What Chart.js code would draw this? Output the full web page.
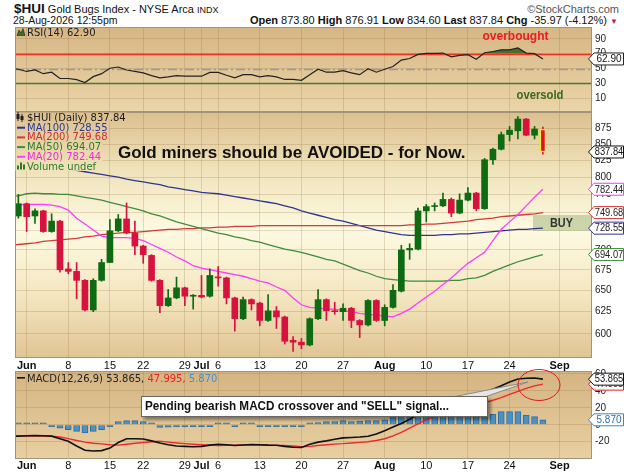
<!DOCTYPE html>
<html><head><meta charset="utf-8">
<script src="https://cdn.jsdelivr.net/npm/chart.js@4.4.1/dist/chart.umd.min.js"></script>
<style>
html,body{margin:0;padding:0;background:#fff}
body{width:624px;height:472px;position:relative;overflow:hidden;font-family:"Liberation Sans",Arial,sans-serif;color:#111}
canvas{position:absolute;left:0}
.h{position:absolute;white-space:nowrap}
</style></head><body>
<div class="h" style="left:14px;top:1px;font-size:11px;line-height:15px"><b style="font-size:13.5px">$HUI</b> Gold Bugs Index - NYSE Arca <span style="font-size:9px">INDX</span></div>
<div class="h" style="right:5px;top:2px;font-size:11px;line-height:14px;color:#555">©StockCharts.com</div>
<div class="h" style="left:13px;top:14px;font-size:10.5px;line-height:13px">28-Aug-2026 12:55pm</div>
<div class="h" id="stats" style="right:6px;top:14px;font-size:11px;line-height:13px"></div>
<canvas id="cRsi" width="624" height="85" style="top:27px"></canvas>
<canvas id="cMain" width="624" height="260" style="top:112px"></canvas>
<canvas id="cMacd" width="624" height="107" style="top:365px"></canvas>
<script>
// ---------------- DATA ----------------
const days = ['May 28','May 29','Jun 1','Jun 2','Jun 3','Jun 4','Jun 5','Jun 8','Jun 9','Jun 10','Jun 11','Jun 12',
 'Jun 15','Jun 16','Jun 17','Jun 18','Jun 22','Jun 23','Jun 24','Jun 25','Jun 26','Jun 29','Jun 30','Jul 1','Jul 2',
 'Jul 6','Jul 7','Jul 8','Jul 9','Jul 10','Jul 13','Jul 14','Jul 15','Jul 16','Jul 17','Jul 20','Jul 21','Jul 22','Jul 23','Jul 24',
 'Jul 27','Jul 28','Jul 29','Jul 30','Jul 31','Aug 3','Aug 4','Aug 5','Aug 6','Aug 7','Aug 10','Aug 11','Aug 12','Aug 13','Aug 14',
 'Aug 17','Aug 18','Aug 19','Aug 20','Aug 21','Aug 24','Aug 25','Aug 26','Aug 27','Aug 28'];
const futureDays = ['Aug 31','Sep 1','Sep 2','Sep 3','Sep 4'];

const openP = [null, 745,762,745,752,724,738,676,673,662,627, 662,684,725,741,722,705,693,662,632,641,
 653,643,644,643,666,665,641,617,639,635, 615,626,619,593,591,588,617,639,626,625,
 629,615,610,638,615,630,649,700,701,752, 758,759,768,749,767,777,755,826,842,865, 871,890,864,873.80];
const highP = [null, 775,763,755,753,748,739,684,684,663,664, 688,740,747,763,738,706,694,663,651,666,
 654,645,668,676,679,666,642,642,640,636, 645,631,620,597,595,618,651,640,636,634,
 630,616,639,639,633,657,706,708,756,761, 763,777,770,776,785,778,828,844,869,878, 894,891,878,876.91];
const lowP = [null, 742,724,735,723,723,672,670,640,626,625, 661,684,724,721,694,683,661,624,631,640,
 632,628,641,642,655,634,603,616,627,609, 614,606,589,581,584,587,616,615,622,615,
 607,596,609,614,609,629,648,688,700,737, 752,758,744,748,766,752,754,819,841,855, 858,863,858,834.60];
const closeP = [null, 762,744,752,724,738,675,673,662,627,662, 684,725,741,722,705,694,662,632,641,653,
 643,644,642,668,665,641,617,639,634,615, 626,619,592,591,588,617,639,626,625,629,
 615,610,638,615,630,650,700,702,752,758, 759,768,749,767,777,755,826,842,865,872, 890,864,873.81,837.84];

const ma20 = [760, 760,761,761,761,760,758,753,742,734,726, 718,716,716,716,715,712,707,702,697,691,
 686,680,677,675,673,671,669,667,664,661, 659,654,650,641,633,630,629,628,628,626,
 625,623,622,621,620,619,623,628,635,642, 649,657,665,674,683,690,697,712,727,737, 747,759,771,782.44];
const ma50 = [772, 773,776,777,776,776,775,775,773,771,769, 767,764,761,758,755,752,748,745,741,737,
 734,731,728,725,722,720,717,715,712,710, 707,704,701,699,697,694,691,688,686,682,
 678,674,671,667,664,663,662,661,661,661, 661,661,662,662,664,665,668,673,677,681, 685,688,691,694.07];
const ma100 = [818, 817,816,815,815,814,813,812,810,808,806, 804,802,800,797,795,793,791,789,786,784,
 782,780,778,777,776,774,772,770,768,766, 764,762,759,756,752,749,746,743,740,738,
 735,732,729,726,724,722,720,719,719,719, 719,720,720,721,721,722,723,724,725,726, 727,727,728,728.55];
const ma200 = [706, 707,708,709,711,712,713,714,715,717,718, 720,721,722,723,723,724,725,726,727,727,
 728,728,729,729,730,730,731,731,731,732, 732,732,732,732,732,732,732,732,732,732,
 732,732,732,732,732,732,732,733,733,734, 734,735,736,737,738,740,741,742,744,745, 746,747,748,749.68];

const rsi14 = [50.5, 49,46,48,43,45,36.5,36.5,35,31,39, 43,50.4,52,48,46,44,40.4,37.4,38.7,40.4,
 39.6,39.6,39.6,44.8,44.8,40.9,37.4,41.7,41.7,38.7, 40.4,38.7,35.2,35.2,34,41.7,49,45,45,47,
 44,41.7,49.6,45,49,52.6,61.3,63.5,69,70.5, 70.4,70.9,65.7,67.8,68.7,62.6,71.3,73,75.2,75.2, 77.8,70.9,70,62.90];

const macdLine = [-13.4, -13.4,-13,-12.6,-13,-13.4,-16.5,-19.5,-25,-30,-31, -30.5,-27.5,-21,-16.5,-16.5,-16.8,-19,-21.5,-23.5,-25,
 -25.5,-26,-25.5,-24,-23,-23.5,-24.4,-23.8,-23.3,-23.5, -24,-24.2,-25.5,-26.5,-26.8,-23,-20.5,-19,-17,-15.5,
 -15,-14.5,-13.5,-11,-7,-2.5,1.5,6.5,12,16, 19.5,22.5,25.5,28.5,32,35,38,42,46,50.5, 54,55,55.3,53.865];
const macdSignal = [-13.4, -13.4,-13.4,-13.4,-13.4,-13.4,-14.5,-16.3,-18.5,-20.5,-21.8, -22.5,-23.5,-24,-23,-21.8,-21,-20,-19.3,-20.5,-21.5,
 -22.3,-23,-23.5,-24,-24.4,-24.2,-24,-23.8,-23.7,-23.9, -24.1,-24.3,-24.4,-25,-26,-25.5,-24.4,-23.5,-22.8,-22.3,
 -21.5,-20.8,-20,-18.5,-16.5,-13,-9,-4,1,6, 10,13.5,16.5,19.5,22,24,26,29,32,36, 39.5,43,46,47.995];
const macdHist = [0.3, 0.2,0.3,0.3,0.2,-0.5,-3.9,-5.8,-7.8,-9.7,-7.8, -5.8,-1.9,3.9,5,5,3.9,1.2,-3.1,-2.7,-1.9,
 -1.9,-1.9,-1.2,-0.4,0.3,0.3,-0.3,0.2,0.3,-0.3, -0.5,-1.5,-1.9,-1.9,-1.5,0.4,2.7,3.9,3.9,5,
 3.9,4.5,5,5,5.8,9.7,10.5,11,11.6,12, 12,12,12,12,12,10.5,11.6,12.4,15.5,15.5, 15.5,11.6,9.7,5.87];

const rsiTicks = [10,30,50,70,90];
const rsiLevels = [70,50,30];
const priceTicks = [600,625,650,675,700,725,750,775,800,825,850,875];
const macdTicks = [-20,0,20,40,60];
const xTickDays = ['Jun 1','Jun 8','Jun 15','Jun 22','Jun 29','Jul 1','Jul 6','Jul 13','Jul 20','Jul 27','Aug 3','Aug 10','Aug 17','Aug 24','Sep 1'];
const xTickLabels = ['Jun','8','15','22','29','Jul','6','13','20','27','Aug','10','17','24','Sep'];

// ---------------- HELPERS ----------------
const SANS = '"Liberation Sans", Arial, sans-serif';
const DV = '"DejaVu Sans", sans-serif';
Chart.defaults.font.family = SANS;
const allDays = days.concat(futureDays);
const xTickPos = xTickDays.map(d => allDays.indexOf(d));
const last = days.length - 1;
const pts = arr => arr.map((v,k) => ({x:k, y:v}));
const candleIdx = days.map((d,k) => k).filter(k => openP[k] != null);
const UP = '#0f6b12', DN = '#d8123e';
const candleColor = candleIdx.map(k => closeP[k] >= openP[k] ? UP : DN);
const C100 = '#2e3590', C200 = '#d43a3a', C50 = '#3f8c3c', C20 = '#ff3cff';
const GRID = 'rgba(140,105,55,0.22)';

document.getElementById('stats').innerHTML =
 `<b>Open</b> ${openP[last].toFixed(2)} <b>High</b> ${highP[last].toFixed(2)} <b>Low</b> ${lowP[last].toFixed(2)} <b>Last</b> ${closeP[last].toFixed(2)} <b>Chg</b> ${(closeP[last]-closeP[last-1]).toFixed(2)} (${((closeP[last]-closeP[last-1])/closeP[last-1]*100).toFixed(2)}%) <span style="color:#c8203c;font-size:8px">&#9660;</span>`;

function xAxis(show, h, pad){
  return {type:'linear', min:0.6, max:69.9, offset:false,
    afterBuildTicks: s => { s.ticks = xTickPos.map(v => ({value:v})); },
    afterFit: s => { s.height = h; s.paddingLeft = 0; s.paddingRight = 0; },
    grid:{color:GRID, drawTicks:false, offset:false},
    border:{display:false},
    ticks:{display:show, autoSkip:false, maxRotation:0, minRotation:0, padding:pad, color:'#111',
      font: c => ({family:SANS, size:11, weight: /^[A-Z]/.test(xTickLabels[c.index]||'') ? 'bold' : 'normal'}),
      callback: (v,i) => xTickLabels[i]}};
}
function yAxis(type, min, max, ticks){
  return {type, position:'right', min, max,
    afterBuildTicks: s => { s.ticks = ticks.map(v => ({value:v})); },
    afterFit: s => { s.width = 32; s.paddingTop = 0; s.paddingBottom = 0; },
    grid:{color:GRID, drawTicks:false}, border:{display:false},
    ticks:{autoSkip:false, padding:3, color:'#222', font:{family:SANS, size:10}, callback: v => String(v)}};
}
function panel(stops){
  return {id:'panel',
    beforeDraw(ch){ const {ctx, chartArea:a} = ch;
      const g = ctx.createLinearGradient(0, a.top, 0, a.bottom); stops.forEach(s => g.addColorStop(s[0], s[1]));
      ch.$grad = g; ctx.save(); ctx.fillStyle = g; ctx.fillRect(a.left, a.top, a.right-a.left, a.bottom-a.top); ctx.restore(); },
    afterDatasetsDraw(ch){ const {ctx, chartArea:a} = ch; ctx.save(); ctx.strokeStyle = '#a39479'; ctx.lineWidth = 1;
      ctx.strokeRect(a.left+0.5, a.top+0.5, a.right-a.left-1, a.bottom-a.top-1); ctx.restore(); }};
}
function tag(ctx, y, text, border, color){
  ctx.save();
  ctx.beginPath(); ctx.moveTo(588.5, y); ctx.lineTo(594, y-6); ctx.lineTo(623.5, y-6); ctx.lineTo(623.5, y+6); ctx.lineTo(594, y+6); ctx.closePath();
  ctx.fillStyle = '#fff'; ctx.fill(); ctx.lineWidth = 1; ctx.strokeStyle = border; ctx.stroke();
  ctx.font = '10px ' + SANS; ctx.fillStyle = color; ctx.textAlign = 'center'; ctx.textBaseline = 'middle';
  ctx.fillText(text, 609, y+0.5, 28.5);
  ctx.restore();
}
function txt(ctx, s, x, y, font, color, align, maxW){
  ctx.font = font; ctx.fillStyle = color; ctx.textAlign = align || 'left'; ctx.textBaseline = 'alphabetic';
  if (maxW) ctx.fillText(s, x, y, maxW); else ctx.fillText(s, x, y);
}
const common = {responsive:false, animation:false, events:[], plugins:{legend:{display:false}, tooltip:{enabled:false}}};

// ---------------- RSI ----------------
const rsiDeco = {id:'rsiDeco',
  beforeDatasetsDraw(ch){ const {ctx, chartArea:a, scales:{y}} = ch; ctx.save();
    const st = {70:['#ee3322',[]], 50:['#9a9a9a',[9,3,2,3]], 30:['#4b7a2c',[]]};
    rsiLevels.forEach(v => { const py = Math.round(y.getPixelForValue(v)) + 0.5; ctx.strokeStyle = st[v][0]; ctx.setLineDash(st[v][1]); ctx.lineWidth = 1.5;
      ctx.beginPath(); ctx.moveTo(a.left, py); ctx.lineTo(a.right, py); ctx.stroke(); });
    ctx.restore(); },
  afterDatasetsDraw(ch){ const ctx = ch.ctx; ctx.save();
    ctx.fillStyle = '#3e6e22'; ctx.strokeStyle = '#222'; ctx.lineWidth = 0.6; ctx.beginPath();
    ctx.moveTo(17, 8.5); ctx.lineTo(19, 3); ctx.lineTo(21, 6); ctx.lineTo(23, 1.5); ctx.lineTo(25, 8.5); ctx.closePath(); ctx.fill(); ctx.stroke();
    txt(ctx, 'RSI(14) ' + rsi14[last].toFixed(2), 27, 8.5, '10px ' + DV, '#222');
    txt(ctx, 'overbought', 515.5, 12.7, 'bold 12px ' + SANS, '#ee1c1c', 'center', 66);
    txt(ctx, 'oversold', 540, 72, 'bold 12px ' + SANS, '#3b6a1c', 'center', 47);
    ctx.restore(); },
  afterDraw(ch){ tag(ch.ctx, ch.scales.y.getPixelForValue(rsi14[last]), rsi14[last].toFixed(2), '#222', '#111'); }};

new Chart(document.getElementById('cRsi'), {type:'line',
  data:{datasets:[{data:pts(rsi14), borderColor:'#222', borderWidth:1.2, pointRadius:0, clip:0,
    fill:{target:{value:70}, above:'#4e6c2c', below:'rgba(0,0,0,0)'}}]},
  options:{...common, layout:{padding:{left:15, right:0, top:0, bottom:0}},
    scales:{x:xAxis(false, 0, 0), y:yAxis('linear', -8.8, 106.1, rsiTicks)}},
  plugins:[panel([[0,'#d7b685'],[1,'#ead5a9']]), rsiDeco]});

// ---------------- MAIN ----------------
const mainLegend = [
  {t:'$HUI (Daily) ' + closeP[last].toFixed(2), c:'#1a1a1a', icon:'candle'},
  {t:'MA(100) ' + ma100[last].toFixed(2), c:'#2b3a8f', lc:C100},
  {t:'MA(200) ' + ma200[last].toFixed(2), c:'#cc2f2f', lc:C200},
  {t:'MA(50) ' + ma50[last].toFixed(2), c:'#2f7a2a', lc:C50},
  {t:'MA(20) ' + ma20[last].toFixed(2), c:'#f02ad8', lc:C20},
  {t:'Volume undef', c:'#2f7a2a', icon:'vol'}];
const mainDeco = {id:'mainDeco',
  beforeDatasetsDraw(ch){ const ctx = ch.ctx; ctx.save();
    ctx.fillStyle = 'rgba(150,172,110,0.47)'; ctx.fillRect(533, 103, 58, 16);
    ctx.restore(); },
  afterDatasetsDraw(ch){ const ctx = ch.ctx; ctx.save();
    ctx.font = '10px ' + DV;
    mainLegend.forEach((it, k) => { const b = 9 + 9.7*k; const w = ctx.measureText(it.t).width;
      ctx.fillStyle = ch.$grad; ctx.fillRect(15.5, b-8.5, 27 + w - 14, 9.8); });
    mainLegend.forEach((it, k) => { const b = 9 + 9.7*k;
      if (it.icon === 'candle'){ ctx.fillStyle = '#222'; ctx.fillRect(17.5, b-9, 1, 9); ctx.fillRect(16.5, b-7, 3, 5); ctx.fillRect(21.5, b-7, 1, 8); ctx.fillRect(20.5, b-5, 3, 4); }
      else if (it.icon === 'vol'){ ctx.fillStyle = '#2f7a2a'; ctx.fillRect(17, b-4, 2, 4); ctx.fillRect(20, b-7, 2, 7); ctx.fillRect(23, b-5, 2, 5); }
      else { ctx.fillStyle = it.lc; ctx.fillRect(17, b-4, 8, 2); }
      txt(ctx, it.t, 27, b, '10px ' + DV, it.c); });
    txt(ctx, 'Gold miners should be AVOIDED - for Now.', 118, 45.5, 'bold 17px ' + SANS, '#111', 'left', 351);
    txt(ctx, 'BUY', 561.5, 115.3, 'bold 12px ' + SANS, '#333', 'center', 23);
    ctx.restore(); },
  afterDraw(ch){ const ctx = ch.ctx, y = ch.scales.y;
    tag(ctx, y.getPixelForValue(ma20[last]), ma20[last].toFixed(2), '#ff33ff', '#222');
    tag(ctx, y.getPixelForValue(ma50[last]), ma50[last].toFixed(2), '#3f8c3c', '#222');
    tag(ctx, y.getPixelForValue(ma200[last]), ma200[last].toFixed(2), '#d43a3a', '#222');
    tag(ctx, y.getPixelForValue(ma100[last]), ma100[last].toFixed(2), '#2e3590', '#222');
    tag(ctx, y.getPixelForValue(closeP[last]), closeP[last].toFixed(2), '#111', '#111'); }};

new Chart(document.getElementById('cMain'), {type:'bar',
  data:{datasets:[
    {type:'bar', data:candleIdx.map(k => ({x:k, y:[openP[k], closeP[k]]})), backgroundColor:candleColor,
      borderColor:candleIdx.map(k => k === last ? '#f3ee1c' : 'rgba(0,0,0,0)'), borderWidth:candleIdx.map(k => k === last ? 1.5 : 0),
      borderSkipped:false, barThickness:6, minBarLength:1, grouped:false, order:0, clip:0},
    {type:'bar', data:candleIdx.map(k => ({x:k, y:[lowP[k], highP[k]]})), backgroundColor:candleColor,
      barThickness:1, grouped:false, order:1, clip:0},
    {type:'line', data:pts(ma20), borderColor:C20, borderWidth:1.3, pointRadius:0, order:2, clip:0},
    {type:'line', data:pts(ma50), borderColor:C50, borderWidth:1.3, pointRadius:0, order:3, clip:0},
    {type:'line', data:pts(ma200), borderColor:C200, borderWidth:1.3, pointRadius:0, order:4, clip:0},
    {type:'line', data:pts(ma100), borderColor:C100, borderWidth:1.3, pointRadius:0, order:5, clip:0}]},
  options:{...common, layout:{padding:{left:15, right:0, top:0, bottom:0}},
    scales:{x:xAxis(true, 14, 1), y:yAxis('logarithmic', 574.1, 901.6, priceTicks)}},
  plugins:[panel([[0,'#dcbf8f'],[0.22,'#efe1b8'],[0.48,'#fdfae2'],[0.75,'#f4e6c0'],[1,'#e0c494']]), mainDeco]});

// ---------------- MACD ----------------
const macdDeco = {id:'macdDeco',
  afterDatasetsDraw(ch){ const ctx = ch.ctx; ctx.save();
    ctx.fillStyle = '#111'; ctx.fillRect(17, 12, 8, 1.6);
    ctx.font = '10px ' + DV; let x = 27;
    [['MACD(12,26,9) ' + macdLine[last].toFixed(3) + ', ', '#222'], [macdSignal[last].toFixed(3) + ', ', '#ee2222'], [macdHist[last].toFixed(3), '#3f92cf']]
      .forEach(([s,c]) => { txt(ctx, s, x, 16.6, '10px ' + DV, c); x += ctx.measureText(s).width; });
    // callout pointer
    ctx.beginPath(); ctx.moveTo(455, 31.5); ctx.lineTo(486, 31.5); ctx.lineTo(528, 17); ctx.closePath();
    ctx.fillStyle = '#e6e6e6'; ctx.fill(); ctx.strokeStyle = '#8a8a8a'; ctx.lineWidth = 1; ctx.stroke();
    // box
    ctx.save(); ctx.shadowColor = 'rgba(0,0,0,0.4)'; ctx.shadowOffsetX = 3; ctx.shadowOffsetY = 3; ctx.shadowBlur = 3;
    ctx.fillStyle = '#fff'; ctx.fillRect(141, 31, 347, 21); ctx.restore();
    ctx.strokeStyle = '#666'; ctx.strokeRect(141.5, 31.5, 346, 20);
    txt(ctx, 'Pending bearish MACD crossover and "SELL" signal...', 145, 45, 'bold 12px ' + SANS, '#111', 'left', 304);
    // ellipse
    ctx.beginPath(); ctx.ellipse(539, 20, 21, 15.5, 0, 0, Math.PI*2); ctx.strokeStyle = '#e01a1a'; ctx.lineWidth = 1; ctx.stroke();
    ctx.restore(); },
  afterDraw(ch){ const ctx = ch.ctx, y = ch.scales.y;
    tag(ctx, y.getPixelForValue(macdHist[last]), macdHist[last].toFixed(3), '#3f86c0', '#2f6fa8');
    tag(ctx, y.getPixelForValue(macdSignal[last]), macdSignal[last].toFixed(3), '#e02020', '#222');
    tag(ctx, y.getPixelForValue(macdLine[last]), macdLine[last].toFixed(3), '#111', '#111'); }};

new Chart(document.getElementById('cMacd'), {type:'bar',
  data:{datasets:[
    {type:'line', data:pts(macdLine), borderColor:'#111', borderWidth:1.6, pointRadius:0, order:0, clip:0},
    {type:'line', data:pts(macdSignal), borderColor:'#ee2a2a', borderWidth:1.4, pointRadius:0, order:1, clip:0},
    {type:'bar', data:pts(macdHist), backgroundColor:'#4b91c4', borderColor:'#2f6f9e', borderWidth:1,
      barThickness:6, minBarLength:2, grouped:false, order:2, clip:0}]},
  options:{...common, layout:{padding:{left:15, right:0, top:6, bottom:0}},
    scales:{x:xAxis(true, 13, 0), y:yAxis('linear', -40.4, 63.5, macdTicks)}},
  plugins:[panel([[0,'#d5b483'],[1,'#e8d0a1']]), macdDeco]});
</script></body></html>
